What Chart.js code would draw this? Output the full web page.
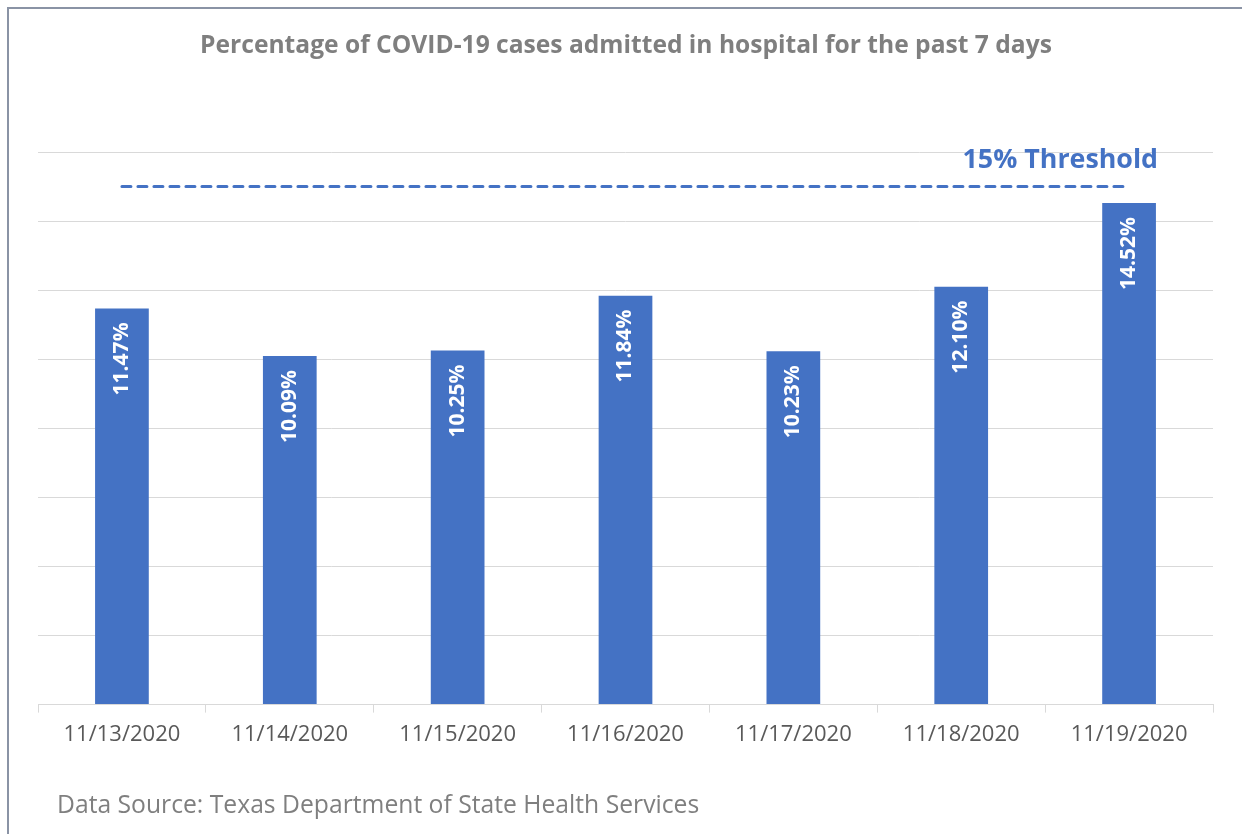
<!DOCTYPE html>
<html>
<head>
<meta charset="utf-8">
<script src="https://cdn.jsdelivr.net/npm/chart.js@4.4.1/dist/chart.umd.min.js"></script>
<style>
  html, body { margin: 0; padding: 0; background: #ffffff; }
  #wrap { position: relative; width: 1242px; height: 834px; }
  canvas { display: block; }
</style>
</head>
<body>
<div id="wrap"><canvas id="c" width="1242" height="834"></canvas></div>
<script>
const categories = ['11/13/2020', '11/14/2020', '11/15/2020', '11/16/2020', '11/17/2020', '11/18/2020', '11/19/2020'];
const hospitalPct = [11.47, 10.09, 10.25, 11.84, 10.23, 12.10, 14.52];
const thresholdPct = [15, 15, 15, 15, 15, 15, 15];
const titleText = 'Percentage of COVID-19 cases admitted in hospital for the past 7 days';
const thresholdLabel = '15% Threshold';
const sourceText = 'Data Source: Texas Department of State Health Services';

const FONT = '"Open Sans", Lato, "Liberation Sans", sans-serif';
const BLUE = '#4472c4';

const decorPlugin = {
  id: 'decor',
  beforeDraw(chart) {
    const ctx = chart.ctx;
    ctx.save();
    ctx.fillStyle = '#ffffff';
    ctx.fillRect(0, 0, chart.width, chart.height);
    // frame
    ctx.strokeStyle = '#8a93a5';
    ctx.lineWidth = 2;
    ctx.beginPath();
    ctx.moveTo(8, chart.height);
    ctx.lineTo(8, 8);
    ctx.lineTo(chart.width, 8);
    ctx.stroke();
    // title
    ctx.fillStyle = '#7f7f7f';
    ctx.font = 'bold 24.6px ' + FONT;
    ctx.textAlign = 'center';
    ctx.textBaseline = 'middle';
    ctx.fillText(titleText, 626, 46);
    // source
    ctx.font = '24.7px ' + FONT;
    ctx.textAlign = 'left';
    ctx.fillStyle = '#7f7f7f';
    ctx.fillText(sourceText, 57, 806);
    ctx.restore();
  },
  afterDatasetsDraw(chart) {
    const ctx = chart.ctx;
    const barMeta = chart.getDatasetMeta(0);
    ctx.save();
    ctx.fillStyle = '#ffffff';
    ctx.font = 'bold 21px ' + FONT;
    ctx.textAlign = 'right';
    ctx.textBaseline = 'middle';
    barMeta.data.forEach((bar, i) => {
      ctx.save();
      ctx.translate(bar.x, bar.y + 14);
      ctx.rotate(-Math.PI / 2);
      ctx.fillText(hospitalPct[i].toFixed(2) + '%', 0, 0);
      ctx.restore();
    });
    // threshold label
    const lineMeta = chart.getDatasetMeta(1);
    const last = lineMeta.data[lineMeta.data.length - 1];
    ctx.fillStyle = BLUE;
    ctx.font = 'bold 26.8px ' + FONT;
    ctx.textAlign = 'right';
    ctx.textBaseline = 'middle';
    ctx.fillText(thresholdLabel, last.x + 29, last.y - 26);
    ctx.restore();
  }
};

new Chart(document.getElementById('c'), {
  data: {
    labels: categories,
    datasets: [
      {
        type: 'bar',
        data: hospitalPct,
        backgroundColor: BLUE,
        borderWidth: 0,
        barPercentage: 0.32,
        categoryPercentage: 1,
        order: 2
      },
      {
        type: 'line',
        data: thresholdPct,
        borderColor: BLUE,
        borderWidth: 3,
        borderDash: [9, 7],
        borderCapStyle: 'round',
        pointRadius: 0,
        fill: false,
        order: 1
      }
    ]
  },
  options: {
    responsive: false,
    animation: false,
    devicePixelRatio: 1,
    layout: { padding: { left: 38, right: 29, top: 152, bottom: 77 } },
    plugins: {
      legend: { display: false },
      tooltip: { enabled: false },
      title: { display: false }
    },
    scales: {
      x: {
        grid: {
          offset: true,
          drawOnChartArea: false,
          drawTicks: true,
          tickLength: 8,
          color: '#d9d9d9'
        },
        border: { display: true, color: '#d9d9d9', width: 1 },
        ticks: {
          color: '#595959',
          font: { family: FONT, size: 22 },
          padding: 9,
          maxRotation: 0
        }
      },
      y: {
        min: 0,
        max: 16,
        ticks: { display: false, stepSize: 2 },
        grid: { color: '#d9d9d9', drawTicks: false, tickLength: 0 },
        border: { display: false }
      }
    }
  },
  plugins: [decorPlugin]
});
</script>
</body>
</html>
